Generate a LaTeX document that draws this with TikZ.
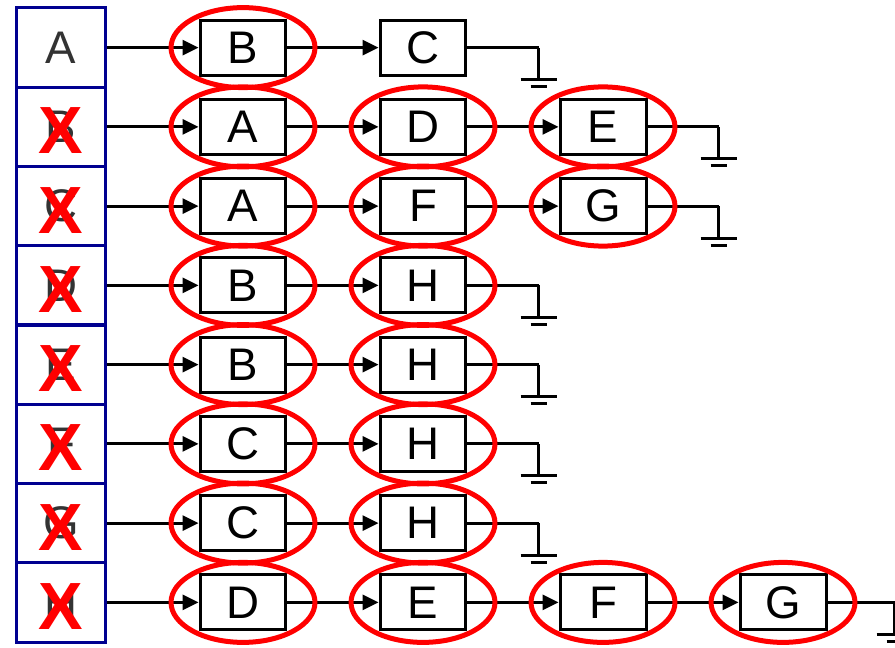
\documentclass[tikz,border=0pt]{standalone}
\usepackage{fontspec}
\setmainfont{Liberation Sans}
\usetikzlibrary{arrows.meta, positioning}
\definecolor{CellNavy}{HTML}{000090}
\definecolor{RingRed}{HTML}{FF0000}
\definecolor{LetterGray}{HTML}{333333}

\tikzset{
  cell/.style={draw=CellNavy, line width=0.06cm, minimum width=1.8cm, minimum height=1.585cm, inner sep=0pt, text=LetterGray, font=\fontsize{26}{30}\selectfont},
  item/.style={draw, line width=0.06cm, minimum width=1.72cm, minimum height=1.1cm, inner sep=0pt, font=\fontsize{26}{30}\selectfont},
  cross/.style={text=RingRed, font=\fontsize{38}{40}\selectfont\bfseries, inner sep=0pt},
  link/.style={line width=0.06cm, -{Triangle[length=0.32cm, width=0.3cm]}},
  wire/.style={line width=0.06cm},
  ring/.style={draw=RingRed, line width=0.1cm},
  earth/.pic={\draw[wire] (0,0) -- (0,32) (-18,32) -- (18,32) (-8,39) -- (8,39);}
}

\begin{document}
\begin{tikzpicture}[x=0.02cm, y=-0.02cm]
            \useasboundingbox[fill=white] (0,0) rectangle (895,648);
            % vertex table
            \node[cell] (c1) at (61,47.6) {A};
            \node[cell] (c2) at (61,126.9) {B};
            \node[cell] (c3) at (61,206.1) {C};
            \node[cell] (c4) at (61,285.4) {D};
            \node[cell] (c5) at (61,364.6) {E};
            \node[cell] (c6) at (61,443.9) {F};
            \node[cell] (c7) at (61,523.1) {G};
            \node[cell] (c8) at (61,602.4) {H};
            \node[cross] (x2) at (61,130.9) {X};
            \node[cross] (x3) at (61,210.1) {X};
            \node[cross] (x4) at (61,289.4) {X};
            \node[cross] (x5) at (61,368.6) {X};
            \node[cross] (x6) at (61,447.9) {X};
            \node[cross] (x7) at (61,527.1) {X};
            \node[cross] (x8) at (61,606.4) {X};
            % adjacency lists
            \node[item] (n11) at (243,47.6) {B};
            \node[item] (n12) at (423,47.6) {C};
            \node[item] (n21) at (243,126.9) {A};
            \node[item] (n22) at (423,126.9) {D};
            \node[item] (n23) at (603,126.9) {E};
            \node[item] (n31) at (243,206.1) {A};
            \node[item] (n32) at (423,206.1) {F};
            \node[item] (n33) at (603,206.1) {G};
            \node[item] (n41) at (243,285.4) {B};
            \node[item] (n42) at (423,285.4) {H};
            \node[item] (n51) at (243,364.6) {B};
            \node[item] (n52) at (423,364.6) {H};
            \node[item] (n61) at (243,443.9) {C};
            \node[item] (n62) at (423,443.9) {H};
            \node[item] (n71) at (243,523.1) {C};
            \node[item] (n72) at (423,523.1) {H};
            \node[item] (n81) at (243,602.4) {D};
            \node[item] (n82) at (423,602.4) {E};
            \node[item] (n83) at (603,602.4) {F};
            \node[item] (n84) at (783,602.4) {G};
            % pointers
            \draw[link] (c1) -- (n11);
            \draw[link] (n11) -- (n12);
            \draw[link] (c2) -- (n21);
            \draw[link] (n21) -- (n22);
            \draw[link] (n22) -- (n23);
            \draw[link] (c3) -- (n31);
            \draw[link] (n31) -- (n32);
            \draw[link] (n32) -- (n33);
            \draw[link] (c4) -- (n41);
            \draw[link] (n41) -- (n42);
            \draw[link] (c5) -- (n51);
            \draw[link] (n51) -- (n52);
            \draw[link] (c6) -- (n61);
            \draw[link] (n61) -- (n62);
            \draw[link] (c7) -- (n71);
            \draw[link] (n71) -- (n72);
            \draw[link] (c8) -- (n81);
            \draw[link] (n81) -- (n82);
            \draw[link] (n82) -- (n83);
            \draw[link] (n83) -- (n84);
            % null ends
            \draw[wire] (n12.east) -- ++(71,0) coordinate (g1);
            \draw[wire] (n23.east) -- ++(71,0) coordinate (g2);
            \draw[wire] (n33.east) -- ++(71,0) coordinate (g3);
            \draw[wire] (n42.east) -- ++(71,0) coordinate (g4);
            \draw[wire] (n52.east) -- ++(71,0) coordinate (g5);
            \draw[wire] (n62.east) -- ++(71,0) coordinate (g6);
            \draw[wire] (n72.east) -- ++(71,0) coordinate (g7);
            \draw[wire] (n84.east) -- ++(67,0) coordinate (g8);
            \pic at (g1) {earth};
            \pic at (g2) {earth};
            \pic at (g3) {earth};
            \pic at (g4) {earth};
            \pic at (g5) {earth};
            \pic at (g6) {earth};
            \pic at (g7) {earth};
            \pic at (g8) {earth};
            % visited marks
            \draw[ring] (n11) ellipse [x radius=1.44cm, y radius=0.8cm];
            \draw[ring] (n21) ellipse [x radius=1.44cm, y radius=0.8cm];
            \draw[ring] (n22) ellipse [x radius=1.44cm, y radius=0.8cm];
            \draw[ring] (n23) ellipse [x radius=1.44cm, y radius=0.8cm];
            \draw[ring] (n31) ellipse [x radius=1.44cm, y radius=0.8cm];
            \draw[ring] (n32) ellipse [x radius=1.44cm, y radius=0.8cm];
            \draw[ring] (n33) ellipse [x radius=1.44cm, y radius=0.8cm];
            \draw[ring] (n41) ellipse [x radius=1.44cm, y radius=0.8cm];
            \draw[ring] (n42) ellipse [x radius=1.44cm, y radius=0.8cm];
            \draw[ring] (n51) ellipse [x radius=1.44cm, y radius=0.8cm];
            \draw[ring] (n52) ellipse [x radius=1.44cm, y radius=0.8cm];
            \draw[ring] (n61) ellipse [x radius=1.44cm, y radius=0.8cm];
            \draw[ring] (n62) ellipse [x radius=1.44cm, y radius=0.8cm];
            \draw[ring] (n71) ellipse [x radius=1.44cm, y radius=0.8cm];
            \draw[ring] (n72) ellipse [x radius=1.44cm, y radius=0.8cm];
            \draw[ring] (n81) ellipse [x radius=1.44cm, y radius=0.8cm];
            \draw[ring] (n82) ellipse [x radius=1.44cm, y radius=0.8cm];
            \draw[ring] (n83) ellipse [x radius=1.44cm, y radius=0.8cm];
            \draw[ring] (n84) ellipse [x radius=1.44cm, y radius=0.8cm];
        \end{tikzpicture}
\end{document}
